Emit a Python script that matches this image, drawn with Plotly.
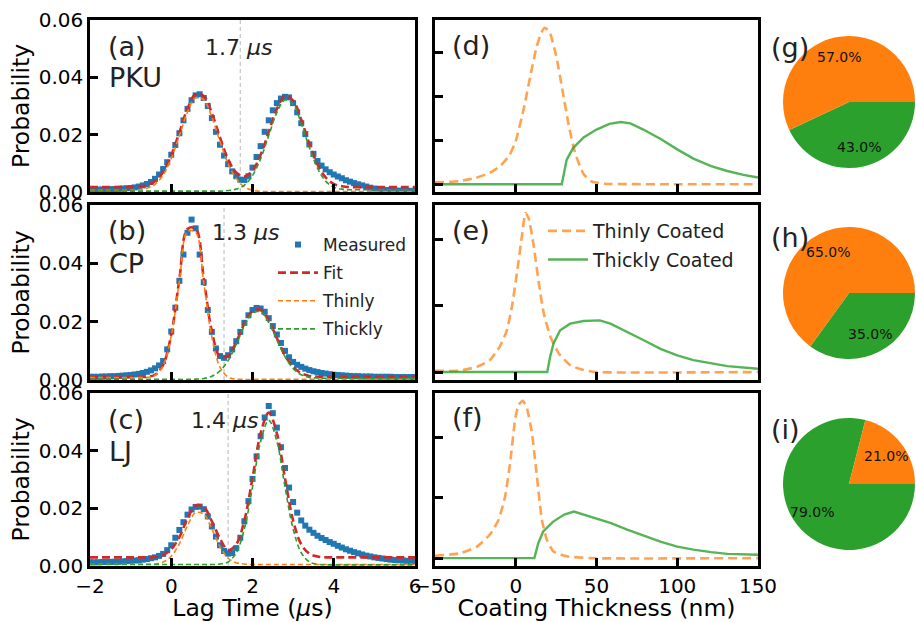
import numpy as np
import plotly.graph_objects as go

W, H = 916, 622
FONT = "DejaVu Sans"

# ---------------- data ----------------
LAG_MEAS = np.round(np.linspace(-2, 6, 81), 1)
LAG_FIT = np.round(np.linspace(-2, 6, 41), 1)

PKU_MEAS = [0.0008, 0.0008, 0.0008, 0.0009, 0.0009, 0.0010, 0.0010, 0.0011, 0.0012, 0.0013,
            0.0014, 0.0016, 0.0019, 0.0023, 0.0028, 0.0035, 0.0046, 0.0061, 0.0080, 0.0104,
            0.0130, 0.0164, 0.0205, 0.0250, 0.0290, 0.0320, 0.0337, 0.0341, 0.0328, 0.0300,
            0.0258, 0.0210, 0.0165, 0.0127, 0.0097, 0.0072, 0.0055, 0.0043, 0.0042, 0.0055,
            0.0085, 0.0122, 0.0160, 0.0210, 0.0250, 0.0285, 0.0310, 0.0326, 0.0332, 0.0330,
            0.0310, 0.0278, 0.0240, 0.0202, 0.0166, 0.0133, 0.0108, 0.0092, 0.0079, 0.0069,
            0.0061, 0.0054, 0.0048, 0.0041, 0.0036, 0.0031, 0.0027, 0.0023, 0.0019, 0.0015,
            0.0012, 0.0010, 0.0008, 0.0007, 0.0006, 0.0005, 0.0005, 0.0004, 0.0004, 0.0004,
            0.0004]
PKU_FIT = [0.0017, 0.0017, 0.0017, 0.0017, 0.0017, 0.0017,
           0.0019, 0.0024, 0.0038, 0.0070, 0.0128, 0.0208, 0.0291, 0.0341, 0.0335, 0.0275,
           0.0190, 0.0114, 0.0068, 0.0054, 0.0075, 0.0130, 0.0210, 0.0290, 0.0334, 0.0319,
           0.0252, 0.0168, 0.0096, 0.0051, 0.0028, 0.0020,
           0.0017, 0.0017, 0.0017, 0.0017, 0.0017, 0.0017, 0.0017, 0.0017, 0.0017]
PKU_THIN = [0.0006, 0.0006, 0.0006, 0.0006, 0.0006, 0.0006,
            0.0008, 0.0013, 0.0027, 0.0059, 0.0117, 0.0196, 0.0279, 0.0329, 0.0322, 0.0261,
            0.0176, 0.0098, 0.0047, 0.0018, 0.0006,
            0.0002, 0.0002, 0.0002, 0.0002, 0.0002, 0.0002, 0.0002, 0.0002, 0.0002, 0.0002,
            0.0002, 0.0002, 0.0002, 0.0002, 0.0002, 0.0002, 0.0002, 0.0002, 0.0002, 0.0002]
PKU_THICK = [0.0003, 0.0003, 0.0003, 0.0003, 0.0003, 0.0003, 0.0003, 0.0003, 0.0003, 0.0003,
             0.0003, 0.0003, 0.0003, 0.0003, 0.0003, 0.0003, 0.0003,
             0.0005, 0.0010, 0.0024, 0.0057, 0.0116, 0.0197, 0.0277, 0.0321, 0.0306, 0.0239,
             0.0155, 0.0083, 0.0038, 0.0017, 0.0010,
             0.0008, 0.0008, 0.0008, 0.0008, 0.0008, 0.0008, 0.0008, 0.0008, 0.0008]

CP_MEAS = [0.0011, 0.0011, 0.0011, 0.0012, 0.0012, 0.0013, 0.0013, 0.0014, 0.0015, 0.0016,
           0.0017, 0.0019, 0.0021, 0.0024, 0.0028, 0.0033, 0.0040, 0.0050, 0.0065, 0.0105,
           0.0166, 0.0248, 0.0340, 0.0430, 0.0505, 0.0550, 0.0520, 0.0430, 0.0335, 0.0240,
           0.0165, 0.0108, 0.0082, 0.0076, 0.0085, 0.0105, 0.0133, 0.0165, 0.0196, 0.0222,
           0.0240, 0.0247, 0.0245, 0.0234, 0.0212, 0.0185, 0.0156, 0.0127, 0.0100, 0.0078,
           0.0062, 0.0052, 0.0045, 0.0039, 0.0034, 0.0030, 0.0027, 0.0024, 0.0022, 0.0020,
           0.0018, 0.0017, 0.0016, 0.0015, 0.0014, 0.0013, 0.0013, 0.0012, 0.0012, 0.0012,
           0.0011, 0.0011, 0.0011, 0.0011, 0.0011, 0.0010, 0.0010, 0.0010, 0.0010, 0.0010,
           0.0010]
CP_FIT = [0.0010, 0.0010, 0.0010, 0.0010, 0.0010, 0.0010, 0.0010,
          0.0011, 0.0018, 0.0052, 0.0156, 0.0345, 0.0518, 0.0519, 0.0348, 0.0167, 0.0081,
          0.0083, 0.0131, 0.0193, 0.0237, 0.0241, 0.0204, 0.0143, 0.0085, 0.0045, 0.0023,
          0.0014, 0.0011,
          0.0010, 0.0010, 0.0010, 0.0010, 0.0010, 0.0010, 0.0010, 0.0010, 0.0010, 0.0010,
          0.0010, 0.0010]
CP_THIN = [0.0008, 0.0008, 0.0008, 0.0008, 0.0008, 0.0008, 0.0008,
           0.0009, 0.0016, 0.0049, 0.0152, 0.0338, 0.0509, 0.0506, 0.0334, 0.0147, 0.0044,
           0.0010, 0.0003,
           0.0002, 0.0002, 0.0002, 0.0002, 0.0002, 0.0002, 0.0002, 0.0002, 0.0002, 0.0002,
           0.0002, 0.0002, 0.0002, 0.0002, 0.0002, 0.0002, 0.0002, 0.0002, 0.0002, 0.0002,
           0.0002, 0.0002]
CP_THICK = [0.0002, 0.0002, 0.0002, 0.0002, 0.0002, 0.0002, 0.0002, 0.0002, 0.0002, 0.0002,
            0.0002, 0.0002, 0.0002,
            0.0003, 0.0005, 0.0013, 0.0031, 0.0067, 0.0122, 0.0185, 0.0229, 0.0233, 0.0197,
            0.0137, 0.0080, 0.0040, 0.0018, 0.0009, 0.0007,
            0.0006, 0.0006, 0.0006, 0.0006, 0.0006, 0.0006, 0.0006, 0.0006, 0.0006, 0.0006,
            0.0006, 0.0006]

LJ_MEAS = [0.0013, 0.0013, 0.0013, 0.0014, 0.0014, 0.0014, 0.0015, 0.0015, 0.0016, 0.0017,
           0.0018, 0.0019, 0.0020, 0.0022, 0.0024, 0.0027, 0.0030, 0.0035, 0.0042, 0.0055,
           0.0072, 0.0098, 0.0125, 0.0152, 0.0178, 0.0196, 0.0205, 0.0206, 0.0197, 0.0172,
           0.0137, 0.0102, 0.0072, 0.0052, 0.0043, 0.0045, 0.0062, 0.0098, 0.0155, 0.0225,
           0.0302, 0.0380, 0.0450, 0.0515, 0.0555, 0.0530, 0.0480, 0.0412, 0.0340, 0.0272,
           0.0222, 0.0185, 0.0158, 0.0140, 0.0126, 0.0115, 0.0105, 0.0097, 0.0090, 0.0083,
           0.0077, 0.0070, 0.0064, 0.0058, 0.0053, 0.0048, 0.0044, 0.0040, 0.0036, 0.0033,
           0.0030, 0.0028, 0.0026, 0.0024, 0.0022, 0.0021, 0.0020, 0.0019, 0.0018, 0.0018,
           0.0017]
LJ_FIT = [0.0030, 0.0030, 0.0030, 0.0030, 0.0030, 0.0030, 0.0030, 0.0030,
          0.0031, 0.0038, 0.0058, 0.0100, 0.0165, 0.0210, 0.0205, 0.0155, 0.0095, 0.0055,
          0.0075, 0.0158, 0.0305, 0.0460, 0.0532, 0.0460, 0.0304, 0.0158, 0.0075, 0.0043,
          0.0033,
          0.0030, 0.0030, 0.0030, 0.0030, 0.0030, 0.0030, 0.0030, 0.0030, 0.0030, 0.0030,
          0.0030, 0.0030]
LJ_THIN = [0.0006, 0.0006, 0.0006, 0.0006, 0.0006, 0.0006, 0.0006, 0.0006,
           0.0007, 0.0014, 0.0034, 0.0077, 0.0140, 0.0185, 0.0180, 0.0128, 0.0067, 0.0027,
           0.0011, 0.0007,
           0.0005, 0.0005, 0.0005, 0.0005, 0.0005, 0.0005, 0.0005, 0.0005, 0.0005, 0.0005,
           0.0005, 0.0005, 0.0005, 0.0005, 0.0005, 0.0005, 0.0005, 0.0005, 0.0005, 0.0005,
           0.0005]
LJ_THICK = [0.0005, 0.0005, 0.0005, 0.0005, 0.0005, 0.0005, 0.0005, 0.0005, 0.0005, 0.0005,
            0.0005, 0.0005, 0.0005, 0.0005, 0.0005, 0.0005,
            0.0007, 0.0014, 0.0046, 0.0129, 0.0274, 0.0432, 0.0505, 0.0432, 0.0274, 0.0129,
            0.0046, 0.0014, 0.0006,
            0.0004, 0.0004, 0.0004, 0.0004, 0.0004, 0.0004, 0.0004, 0.0004, 0.0004, 0.0004,
            0.0004, 0.0004]

SPLIT_TIME = [1.7, 1.3, 1.4]
SITES = ["PKU", "CP", "LJ"]

# coating thickness distributions (nm)
PKU_THIN_NM = [-50, -35, -25, -16, -10, -4, 0, 5, 9, 13, 16, 18, 21, 25, 29, 33, 37, 42, 47, 55, 100, 150]
PKU_THIN_PDF = [0.0004, 0.0007, 0.0014, 0.0026, 0.0040, 0.0065, 0.0098, 0.0172, 0.0245, 0.0313,
                0.0345, 0.0355, 0.0345, 0.0292, 0.0212, 0.0130, 0.0068, 0.0023, 0.0006, 0.0001,
                0.0, 0.0]
PKU_THICK_NM = [-50, 28.5, 31.5, 35.5, 42, 50, 58, 65, 71, 79, 90, 100, 110, 121, 131, 141, 150]
PKU_THICK_PDF = [0.0, 0.0, 0.0055, 0.0082, 0.0106, 0.0124, 0.0137, 0.0141, 0.0138, 0.0124,
                 0.0102, 0.0079, 0.0058, 0.0041, 0.0030, 0.0021, 0.0015]

CP_THIN_NM = [-50, -35, -24, -16, -10, -5.5, -2.4, 0.7, 3.8, 6, 8, 11.2, 14.3, 17.4, 21.5, 26.7, 34, 42, 50, 150]
CP_THIN_PDF = [0.0004, 0.0004, 0.0016, 0.0036, 0.0076, 0.0126, 0.0196, 0.0298, 0.0410, 0.0480,
               0.0464, 0.0378, 0.0268, 0.0176, 0.0106, 0.0056, 0.0020, 0.0006, 0.0, 0.0]
CP_THICK_NM = [-50, 19.5, 21.3, 23.4, 27.5, 33.7, 42, 52, 58.6, 69, 79.3, 89.6, 100, 110, 121, 131, 150]
CP_THICK_PDF = [0.0, 0.0, 0.0046, 0.0086, 0.0126, 0.0146, 0.0154, 0.0156, 0.0146, 0.0122,
                0.0096, 0.0070, 0.0050, 0.0036, 0.0026, 0.0018, 0.0010]

LJ_THIN_NM = [-50, -34.5, -24, -16, -10.7, -6.6, -3.5, -0.4, 1.7, 4.4, 6.9, 10, 13.1, 16.2, 19.3, 23.4, 31.7, 46, 150]
LJ_THIN_PDF = [0.0008, 0.0016, 0.0038, 0.0078, 0.0126, 0.0204, 0.0314, 0.0458, 0.0506, 0.0520,
               0.0496, 0.0414, 0.0270, 0.0126, 0.0060, 0.0022, 0.0006, 0.0, 0.0]
LJ_THICK_NM = [-50, 11.5, 14, 17, 23, 30, 36, 42, 50, 59, 69, 79, 90, 100, 110, 121, 131, 150]
LJ_THICK_PDF = [0.0, 0.0, 0.0050, 0.0088, 0.0120, 0.0144, 0.0154, 0.0144, 0.0132, 0.0116,
                0.0094, 0.0074, 0.0054, 0.0038, 0.0028, 0.0020, 0.0014, 0.0011]

THIN_PCT = [57.0, 65.0, 21.0]
THICK_PCT = [43.0, 35.0, 79.0]

# ---------------- style ----------------
C_BLUE, C_RED, C_ORANGE, C_GREEN = "#1f77b4", "#d62728", "#ff7f0e", "#2ca02c"
ORANGE_A, GREEN_A = "rgba(255,127,14,0.72)", "rgba(44,160,44,0.8)"
TITLE_SIZE = 23.5

LEFT = (90, 415)
MID = (435, 758)
ROWS = [(20, 192), (205, 380), (393, 566)]


def px_x(a, b):
    return [a / W, b / W]


def px_y(t, b):
    return [1 - b / H, 1 - t / H]


fig = go.Figure()

left_sets = [
    (PKU_MEAS, PKU_FIT, PKU_THIN, PKU_THICK),
    (CP_MEAS, CP_FIT, CP_THIN, CP_THICK),
    (LJ_MEAS, LJ_FIT, LJ_THIN, LJ_THICK),
]
mid_sets = [
    (PKU_THIN_NM, PKU_THIN_PDF, PKU_THICK_NM, PKU_THICK_PDF),
    (CP_THIN_NM, CP_THIN_PDF, CP_THICK_NM, CP_THICK_PDF),
    (LJ_THIN_NM, LJ_THIN_PDF, LJ_THICK_NM, LJ_THICK_PDF),
]

for i, (meas, fit, thin, thick) in enumerate(left_sets):
    xa = "x" if i == 0 else f"x{i+1}"
    ya = "y" if i == 0 else f"y{i+1}"
    show = (i == 1)
    fig.add_trace(go.Scatter(x=LAG_MEAS, y=meas, mode="markers", name="Measured",
                             marker=dict(symbol="square", size=6, color=C_BLUE),
                             xaxis=xa, yaxis=ya, showlegend=show, legend="legend", legendgroup="meas"))
    fig.add_trace(go.Scatter(x=LAG_FIT, y=fit, mode="lines", name="Fit",
                             line=dict(color=C_RED, width=2.6, dash="8px,4px", shape="spline", smoothing=1),
                             xaxis=xa, yaxis=ya, showlegend=show, legend="legend", legendgroup="fit"))
    fig.add_trace(go.Scatter(x=LAG_FIT, y=thin, mode="lines", name="Thinly",
                             line=dict(color=C_ORANGE, width=1.6, dash="5px,3px", shape="spline", smoothing=1),
                             xaxis=xa, yaxis=ya, showlegend=show, legend="legend", legendgroup="thin"))
    fig.add_trace(go.Scatter(x=LAG_FIT, y=thick, mode="lines", name="Thickly",
                             line=dict(color=C_GREEN, width=1.6, dash="5px,3px", shape="spline", smoothing=1),
                             xaxis=xa, yaxis=ya, showlegend=show, legend="legend", legendgroup="thick"))

for i, (tnm, tpdf, knm, kpdf) in enumerate(mid_sets):
    xa = f"x{i+4}"
    ya = f"y{i+4}"
    show = (i == 1)
    fig.add_trace(go.Scatter(x=tnm, y=tpdf, mode="lines", name="Thinly Coated",
                             line=dict(color=ORANGE_A, width=2.6, dash="9px,5px", shape="spline", smoothing=0.5),
                             xaxis=xa, yaxis=ya, showlegend=show, legend="legend2", legendgroup="thinc"))
    fig.add_trace(go.Scatter(x=knm, y=kpdf, mode="lines", name="Thickly Coated",
                             line=dict(color=GREEN_A, width=2.4, shape="linear"),
                             xaxis=xa, yaxis=ya, showlegend=show, legend="legend2", legendgroup="thickc"))

# pies (thick slice first, drawn clockwise from 3 o'clock => thin slice runs counter-clockwise from 3 o'clock)
PIE_CX, PIE_R = 849, 66
PIE_CY = [102, 293, 484]
annotations = []
for i in range(3):
    cy = PIE_CY[i]
    fig.add_trace(go.Pie(values=[THICK_PCT[i], THIN_PCT[i]], labels=["Thickly", "Thinly"],
                         marker=dict(colors=[C_GREEN, C_ORANGE], line=dict(width=0)),
                         sort=False, direction="clockwise", rotation=90,
                         textinfo="none", hoverinfo="skip", showlegend=False,
                         domain=dict(x=px_x(PIE_CX - PIE_R, PIE_CX + PIE_R),
                                     y=px_y(cy - PIE_R, cy + PIE_R))))
    start = 0.0
    for pct in (THIN_PCT[i], THICK_PCT[i]):
        mid = np.deg2rad(start + pct * 3.6 / 2)
        start += pct * 3.6
        lx = PIE_CX + 0.7 * PIE_R * np.cos(mid)
        ly = cy - 0.7 * PIE_R * np.sin(mid)
        annotations.append(dict(x=lx / W, y=1 - ly / H, xref="paper", yref="paper",
                                text=f"{pct:.1f}%", showarrow=False,
                                font=dict(size=14, color="#111111", family=FONT),
                                xanchor="center", yanchor="middle"))

axis_common = dict(showline=True, linecolor="black", linewidth=2.5, mirror=True,
                   ticks="inside", ticklen=8, tickwidth=2.5, tickcolor="black", automargin=False,
                   showgrid=False, zeroline=False, tickfont=dict(size=20, family=FONT, color="black"))

layout = dict(width=W, height=H, margin=dict(l=0, r=0, t=0, b=0, autoexpand=False), autosize=False,
              paper_bgcolor="white", plot_bgcolor="white",
              font=dict(family=FONT, color="black"))

mid_yticks = [[0, 0.01, 0.02, 0.03], [0, 0.02, 0.04], [0, 0.02, 0.04]]
for i in range(3):
    r = ROWS[i]
    k = "" if i == 0 else str(i + 1)
    layout[f"xaxis{k}"] = dict(axis_common, domain=px_x(*LEFT), anchor=f"y{k}", range=[-2, 6],
                               tickvals=[-2, 0, 2, 4, 6], showticklabels=(i == 2))
    layout[f"yaxis{k}"] = dict(axis_common, domain=px_y(*r), anchor=f"x{k}", range=[0, 0.06],
                               tickvals=[0, 0.02, 0.04, 0.06], tickformat=".2f",
                               title=dict(text="Probability", font=dict(size=TITLE_SIZE, family=FONT), standoff=3))
    m = str(i + 4)
    tmax = max(mid_sets[i][1])
    layout[f"xaxis{m}"] = dict(axis_common, domain=px_x(*MID), anchor=f"y{m}", range=[-50, 150],
                               tickvals=[-50, 0, 50, 100, 150], showticklabels=(i == 2))
    layout[f"yaxis{m}"] = dict(axis_common, domain=px_y(*r), anchor=f"x{m}",
                               range=[-0.05 * tmax, 1.05 * tmax],
                               tickvals=mid_yticks[i], showticklabels=False)

layout["xaxis3"]["title"] = dict(text="Lag Time (<i>μ</i>s)", font=dict(size=TITLE_SIZE, family=FONT), standoff=8)
layout["xaxis6"]["title"] = dict(text="Coating Thickness (nm)", font=dict(size=TITLE_SIZE, family=FONT), standoff=8)

layout["legend"] = dict(x=273 / W, y=1 - 227 / H, xanchor="left", yanchor="top",
                        bgcolor="rgba(0,0,0,0)", font=dict(size=17, family=FONT, color="#222222"),
                        itemwidth=40, tracegroupgap=3)
layout["legend2"] = dict(x=543 / W, y=1 - 212 / H, xanchor="left", yanchor="top",
                         bgcolor="rgba(0,0,0,0)", font=dict(size=19, family=FONT, color="#222222"),
                         itemwidth=40, tracegroupgap=1)

# split lines and labels
shapes = []
SPLIT_LABEL_X = [1.65, 1.83, 1.32]
for i in range(3):
    k = "" if i == 0 else str(i + 1)
    shapes.append(dict(type="line", xref=f"x{k}", yref=f"y{k} domain", x0=SPLIT_TIME[i], x1=SPLIT_TIME[i],
                       y0=0, y1=1, line=dict(color="#c8c8c8", width=1.3, dash="4px,3px"), layer="below"))
    annotations.append(dict(x=SPLIT_LABEL_X[i], y=0.0505, xref=f"x{k}", yref=f"y{k}",
                            text=f"{SPLIT_TIME[i]} <i>μs</i>", showarrow=False,
                            font=dict(size=22, family=FONT, color="#222222"),
                            xanchor="center", yanchor="middle"))

# panel labels
LETTERS_L = ["(a)", "(b)", "(c)"]
LETTERS_M = ["(d)", "(e)", "(f)"]
LETTERS_P = ["(g)", "(h)", "(i)"]
ROW_TOP = [r[0] for r in ROWS]
for i in range(3):
    t = ROW_TOP[i]
    annotations.append(dict(x=106 / W, y=1 - (t + 26) / H, xref="paper", yref="paper", text=LETTERS_L[i],
                            showarrow=False, xanchor="left", yanchor="middle",
                            font=dict(size=27, family=FONT, color="#222222")))
    annotations.append(dict(x=107 / W, y=1 - (t + 58) / H, xref="paper", yref="paper", text=SITES[i],
                            showarrow=False, xanchor="left", yanchor="middle",
                            font=dict(size=27, family=FONT, color="#222222")))
    annotations.append(dict(x=450 / W, y=1 - (t + 25) / H, xref="paper", yref="paper", text=LETTERS_M[i],
                            showarrow=False, xanchor="left", yanchor="middle",
                            font=dict(size=27, family=FONT, color="#222222")))
    annotations.append(dict(x=769 / W, y=1 - (PIE_CY[i] - 55) / H, xref="paper", yref="paper",
                            text=LETTERS_P[i], showarrow=False, xanchor="left", yanchor="middle",
                            font=dict(size=27, family=FONT, color="#222222")))

layout["shapes"] = shapes
layout["annotations"] = annotations
fig.update_layout(**layout)
fig.write_html("out.html")
